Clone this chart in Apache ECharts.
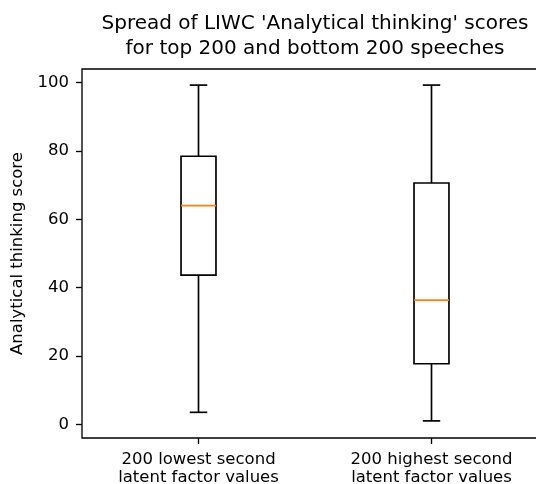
<!DOCTYPE html>
<html>
<head>
<meta charset="utf-8">
<script src="https://cdn.jsdelivr.net/npm/echarts@6/dist/echarts.min.js"></script>
<style>html,body{margin:0;padding:0;background:#fff;}#c{width:536px;height:484px;}</style>
</head>
<body>
<div id="c"></div>
<script>
var categories = ['200 lowest second\nlatent factor values', '200 highest second\nlatent factor values'];
var whiskerLow = [3.6, 1.1];
var q1 = [43.7, 17.8];
var median = [64.0, 36.4];
var q3 = [78.4, 70.6];
var whiskerHigh = [99.2, 99.2];
var yTicks = [0, 20, 40, 60, 80, 100];

var font = 'DejaVu Sans';
var data = categories.map(function (c, i) {
  return [i, whiskerLow[i], q1[i], median[i], q3[i], whiskerHigh[i]];
});

var chart = echarts.init(document.getElementById('c'), null, {renderer: 'canvas'});
var lw = 1.67;
var sw = 1.33;
chart.setOption({
  animation: false,
  backgroundColor: '#fff',
  title: {
    text: "Spread of LIWC 'Analytical thinking' scores\nfor top 200 and bottom 200 speeches",
    left: 310, top: 6, textAlign: 'center',
    textStyle: {fontFamily: font, fontSize: 20, fontWeight: 'normal', color: '#000', lineHeight: 25}
  },
  grid: {left: 82, top: 69, width: 466, height: 369, containLabel: false, outerBoundsMode: 'none',
         show: true, borderColor: '#000', borderWidth: sw, backgroundColor: 'transparent'},
  xAxis: {
    type: 'category', data: categories, boundaryGap: true,
    axisLine: {show: false, onZero: false},
    axisTick: {show: true, alignWithLabel: true, length: 6, lineStyle: {color: '#000', width: sw}},
    axisLabel: {fontFamily: font, fontSize: 16.5, color: '#000', margin: 13, lineHeight: 18, interval: 0},
    splitLine: {show: false}
  },
  yAxis: {
    type: 'value', min: -3.9, max: 103.9,
    name: 'Analytical thinking score', nameLocation: 'middle', nameGap: 50, nameRotate: 90,
    nameTextStyle: {fontFamily: font, fontSize: 16.5, color: '#000'},
    axisLine: {show: false},
    axisTick: {show: true, length: 6, customValues: yTicks, lineStyle: {color: '#000', width: sw}},
    axisLabel: {fontFamily: font, fontSize: 16.5, color: '#000', margin: 13, customValues: yTicks},
    splitLine: {show: false}
  },
  series: [{
    type: 'custom',
    data: data,
    encode: {x: 0, y: [1, 2, 3, 4, 5]},
    renderItem: function (params, api) {
      var x = api.value(0);
      var band = api.size([1, 0])[0];
      var bw = band * 0.15;
      var cw = bw / 2;
      var pLow = api.coord([x, api.value(1)]);
      var pQ1 = api.coord([x, api.value(2)]);
      var pMed = api.coord([x, api.value(3)]);
      var pQ3 = api.coord([x, api.value(4)]);
      var pHigh = api.coord([x, api.value(5)]);
      var cx = pQ1[0];
      var st = {stroke: '#000', lineWidth: lw, fill: null};
      return {
        type: 'group',
        children: [
          {type: 'line', shape: {x1: cx, y1: pQ1[1], x2: cx, y2: pLow[1]}, style: st},
          {type: 'line', shape: {x1: cx, y1: pQ3[1], x2: cx, y2: pHigh[1]}, style: st},
          {type: 'line', shape: {x1: cx - cw / 2, y1: pLow[1], x2: cx + cw / 2, y2: pLow[1]}, style: st},
          {type: 'line', shape: {x1: cx - cw / 2, y1: pHigh[1], x2: cx + cw / 2, y2: pHigh[1]}, style: st},
          {type: 'rect', shape: {x: cx - bw / 2, y: pQ3[1], width: bw, height: pQ1[1] - pQ3[1]}, style: {stroke: '#000', lineWidth: lw, fill: 'none'}},
          {type: 'line', shape: {x1: cx - bw / 2, y1: pMed[1], x2: cx + bw / 2, y2: pMed[1]}, style: {stroke: '#ff7f0e', lineWidth: lw}}
        ]
      };
    }
  }]
});
</script>
</body>
</html>
